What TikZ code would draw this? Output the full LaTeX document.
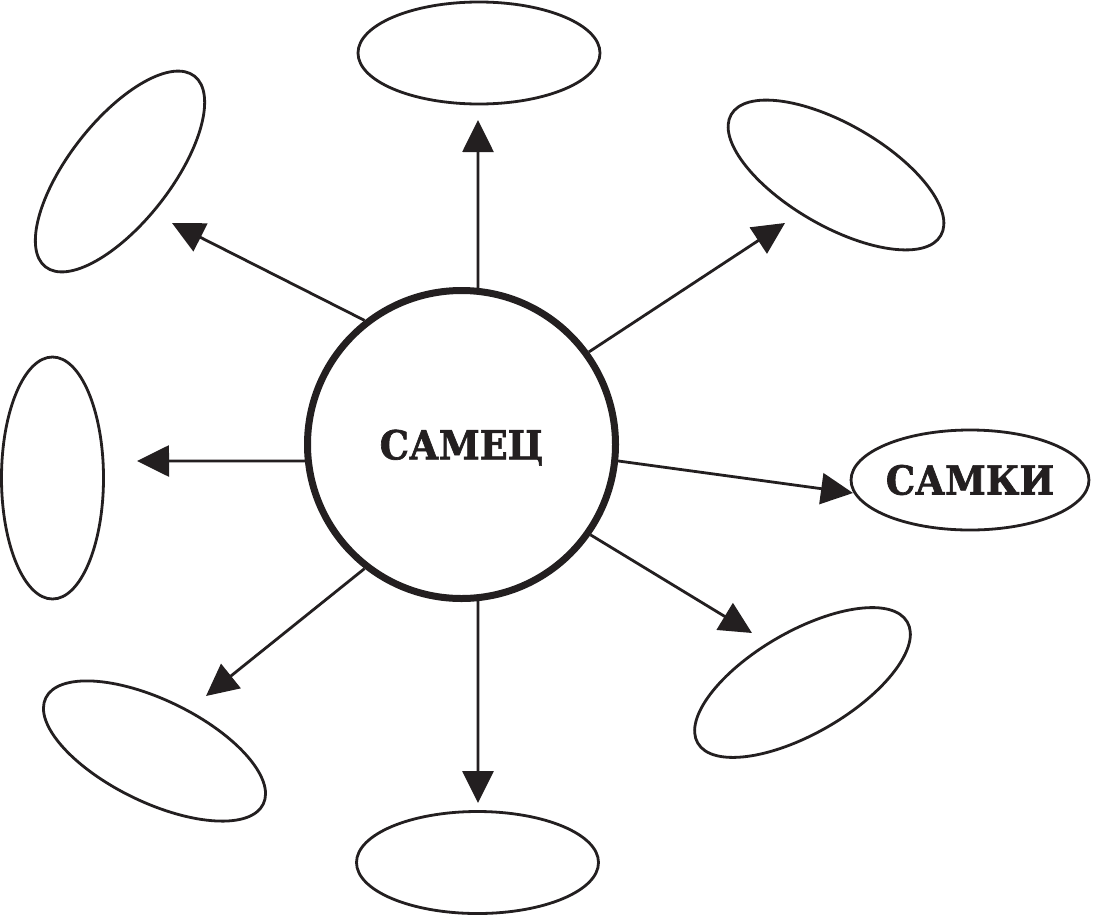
\documentclass[tikz,border=0pt]{standalone}
\usepackage{fontspec}
\setmainfont{DejaVu Serif}
\newfontfamily\heavyfont[FakeBold=1.6,FakeStretch=0.92]{DejaVu Serif Bold}
\usetikzlibrary{shapes.geometric,arrows.meta}
\definecolor{ink}{RGB}{35,31,32}
\begin{document}
\begin{tikzpicture}[x=1pt,y=-1pt,
  oval/.style={draw=ink, line width=2.8pt, ellipse, inner sep=0pt,
    minimum width=242pt, minimum height=102pt},
  hub/.style={draw=ink, line width=7pt, circle, inner sep=0pt,
    minimum size=308pt, text depth=0pt},
  arr/.style={draw=ink, line width=2.8pt,
    -{Triangle[length=32pt,width=31pt]}},
  big/.style={font=\heavyfont\fontsize{40}{48}\selectfont, text=ink}]
\useasboundingbox (0,0) rectangle (1094,916);
\fill[white] (0,0) rectangle (1094,916);
% ellipses
\node[oval] (eT)  at (479,53) {};
\node[oval, rotate=52] (eTL) at (120,171.5) {};
\node[oval, rotate=-30] (eTR) at (836,175) {};
\node[oval, rotate=90] (eL) at (52.5,478) {};
\node[oval, big, minimum width=236pt, minimum height=100pt] (eR) at (970,480) {САМКИ};
\node[oval, rotate=30] (eBR) at (802.5,682.5) {};
\node[oval, rotate=-26] (eBL) at (154.5,751) {};
\node[oval] (eB) at (477.5,862.5) {};
% center
\node[hub, big] (c) at (461.5,444.5) {САМЕЦ};
% arrow tips
\coordinate (tT)  at (478,120);
\coordinate (tTR) at (785,223);
\coordinate (tTL) at (172,223);
\coordinate (tL)  at (137,461);
\coordinate (tR)  at (853,493);
\coordinate (tBR) at (752,633);
\coordinate (tBL) at (206,696);
\coordinate (tB)  at (478,803);
% arrows
\draw[arr] (c.84)   -- (tT);
\draw[arr] (c.36)   -- (tTR);
\draw[arr] (c.128)  -- (tTL);
\draw[arr] (c.186.3) -- (tL);
\draw[arr] (c.-6.7) -- (tR);
\draw[arr] (c.-35.3) -- (tBR);
\draw[arr] (c.-128) -- (tBL);
\draw[arr] (c.-84)  -- (tB);
\end{tikzpicture}
\end{document}
